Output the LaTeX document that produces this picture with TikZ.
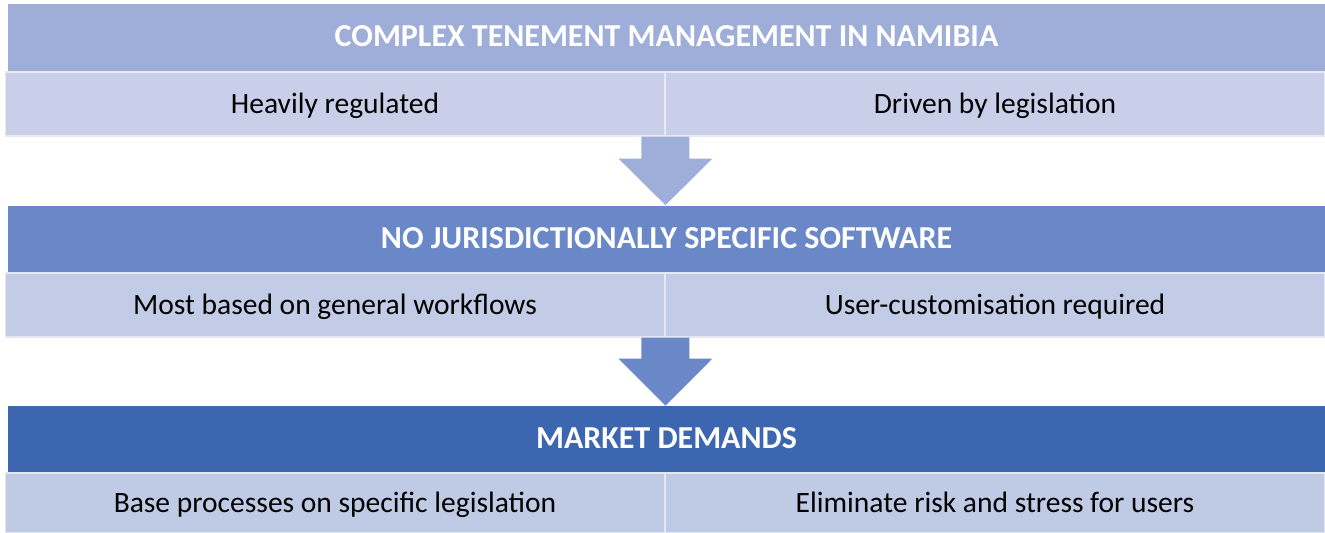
\documentclass[tikz,border=0pt]{standalone}
\usepackage{fontspec}
\setmainfont{Carlito}
\usetikzlibrary{calc}

\definecolor{headone}{HTML}{9FAED9}
\definecolor{rowone}{HTML}{CACFE9}
\definecolor{headtwo}{HTML}{6A88C8}
\definecolor{rowtwo}{HTML}{C3CCE7}
\definecolor{headthree}{HTML}{3D66B0}
\definecolor{rowthree}{HTML}{BFCAE5}

\tikzset{
  headbox/.style={rectangle,inner sep=0,minimum width=26.34cm,minimum height=1.36cm,
    text height=11.7pt,text depth=2pt,text=white,font=\headfontsize\bfseries},
  cellbox/.style={rectangle,inner sep=0,minimum width=13.2cm,minimum height=1.28cm,
    text height=10.8pt,text depth=0pt,
    draw=white!55!#1,line width=0.6pt,fill=#1,text=black,font=\cellfontsize},
  blockarrow/.style={fill=#1,draw=none}
}

\begin{document}
\begin{tikzpicture}[x=0.02cm,y=-0.02cm]
    \providecommand{\headfontsize}{\fontsize{18.2pt}{21pt}\selectfont}
    \providecommand{\cellfontsize}{\fontsize{16.8pt}{20pt}\selectfont}
    \pgfmathsetmacro{\shaftw}{24}  % half width of arrow shaft
    \pgfmathsetmacro{\headw}{47}   % half width of arrow head
    \useasboundingbox (0,0) rectangle (1325,533);
    % first block
    \node[headbox,fill=headone](head1) at (666.5,38) {COMPLEX TENEMENT MANAGEMENT IN NAMIBIA};
    \node[cellbox=rowone](left1) at (335,104) {Heavily regulated};
    \node[cellbox=rowone](right1) at (995,104) {Driven by legislation};
    % second block
    \node[headbox,fill=headtwo](head2) at (666.5,239.5) {NO JURISDICTIONALLY SPECIFIC SOFTWARE};
    \node[cellbox=rowtwo](left2) at (335,305) {Most based on general workflows};
    \node[cellbox=rowtwo](right2) at (995,305) {User-customisation required};
    % third block
    \node[headbox,fill=headthree](head3) at (666.5,440) {MARKET DEMANDS};
    \node[cellbox=rowthree,minimum height=1.2cm](left3) at (335,503) {Base processes on specific legislation};
    \node[cellbox=rowthree,minimum height=1.2cm](right3) at (995,503) {Eliminate risk and stress for users};
    % arrows between the blocks
    \fill[blockarrow=headone] ($(left1.south east)+(-\shaftw,0)$) -- ($(left1.south east)+(\shaftw,0)$)
        -- ($(left1.south east)+(\shaftw,22)$) -- ($(left1.south east)+(\headw,22)$)
        -- (left1.south east |- head2.north) -- ($(left1.south east)+(-\headw,22)$)
        -- ($(left1.south east)+(-\shaftw,22)$) -- cycle;
    \fill[blockarrow=headtwo] ($(left2.south east)+(-\shaftw,0)$) -- ($(left2.south east)+(\shaftw,0)$)
        -- ($(left2.south east)+(\shaftw,21)$) -- ($(left2.south east)+(\headw,21)$)
        -- (left2.south east |- head3.north) -- ($(left2.south east)+(-\headw,21)$)
        -- ($(left2.south east)+(-\shaftw,21)$) -- cycle;
\end{tikzpicture}
\end{document}
